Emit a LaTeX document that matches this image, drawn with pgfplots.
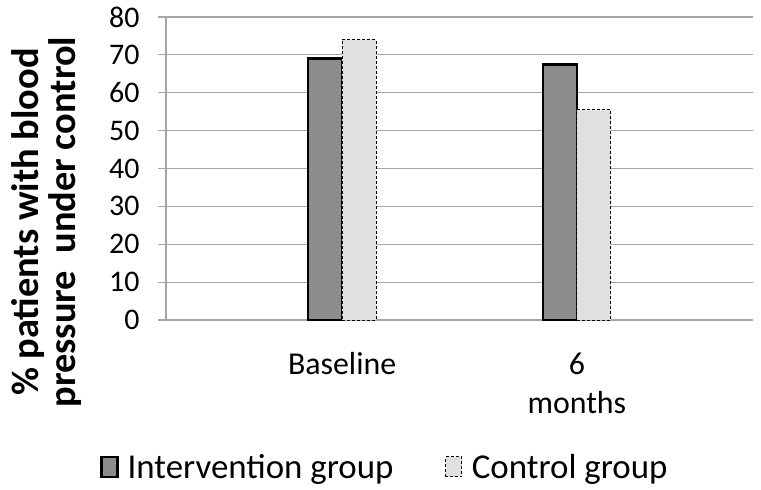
\documentclass[border=0pt]{standalone}
\usepackage{fontspec}
\setmainfont{Carlito}
\usepackage{pgfplots}
\pgfplotsset{compat=1.18}
\definecolor{intfill}{RGB}{140,140,140}
\definecolor{ctlfill}{RGB}{224,224,224}
\definecolor{gridgray}{RGB}{166,166,166}

\begin{document}
\begin{tikzpicture}
\path[use as bounding box] (-166bp,-170bp) rectangle (595bp,320bp);
\begin{axis}[
  scale only axis, width=587bp, height=303bp,
  xmin=-0.75, xmax=1.75, ymin=0, ymax=80,
  ytick={0,10,...,80},
  xtick={0,1}, xticklabels={Baseline,{6\\months}},
  ymajorgrids, grid style={gridgray, line width=1.2bp},
  axis x line*=bottom, axis y line*=left,
  axis line style={gridgray, line width=1.2bp, -},
  tick align=outside, major tick length=8bp,
  ytick style={gridgray, line width=1.2bp},
  xtick style={draw=none},
  /pgf/number format/assume math mode=true,
  every y tick label/.append style={font=\fontsize{30}{32}\selectfont, anchor=east, xshift=-15bp},
  xticklabel style={font=\fontsize{32}{40}\selectfont, align=center, anchor=north, yshift=-21bp},
  ylabel={\% patients with blood\\pressure\ \ under control},
  ylabel style={at={(axis description cs:-0.203,0.323)}, anchor=center,
    font=\bfseries\fontsize{38.5}{37}\selectfont, align=center},
  legend style={at={(axis description cs:0.373,-0.485)}, anchor=center,
    draw=none, fill=none, legend columns=2,
    font=\fontsize{35}{40}\selectfont,
    /tikz/every even column/.append style={column sep=50bp}},
  legend image code/.code={\path[draw=none, fill=none] (0bp,0bp) -- (24bp,0bp);
    \draw[#1] (0bp,-10bp) rectangle (16bp,10bp);},
]
\addplot[ybar, bar width=34bp, bar shift=-17bp, fill=intfill, draw=black,
  line width=2.5bp] coordinates {(0,69) (1,67.5)};
\addlegendentry{Intervention group}
\addplot[ybar, bar width=34bp, bar shift=17bp, fill=ctlfill, draw=black,
  line width=1bp, dash pattern=on 3bp off 2bp] coordinates {(0,74) (1,55.5)};
\addlegendentry{Control group}
\draw[gridgray, line width=1.2bp] (axis cs:-0.75,0) -- ++(0bp,-8bp);
\draw[gridgray, line width=1.2bp] (axis cs:1.75,0) -- ++(0bp,-8bp);
\end{axis}
\end{tikzpicture}
\end{document}
